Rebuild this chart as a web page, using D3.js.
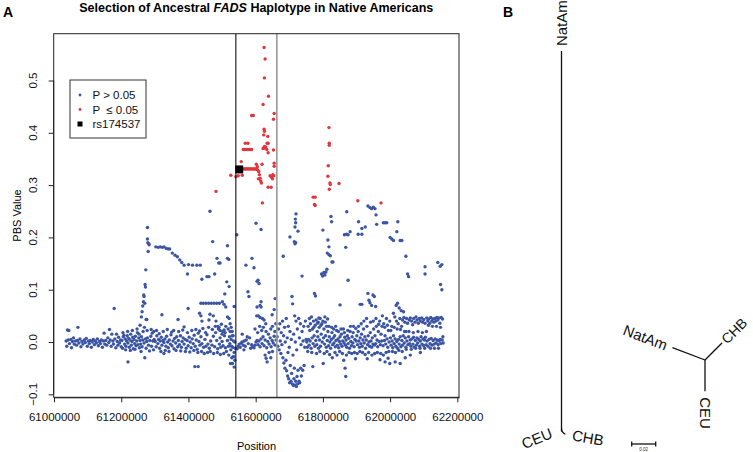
<!DOCTYPE html>
<html><head><meta charset="utf-8">
<script src="https://cdn.jsdelivr.net/npm/d3@7/dist/d3.min.js"></script>
<style>
html,body{margin:0;padding:0;background:#fff;}
svg{display:block;font-family:"Liberation Sans",Arial,Helvetica,sans-serif;}
text{white-space:pre;}
</style></head>
<body><svg id="c" width="753" height="452"></svg>
<script>
// ---------- DATA (positions in kb, PBS values) ----------
const xTicks = [61000000,61200000,61400000,61600000,61800000,62000000,62200000];
const yTicks = [-0.1,0.0,0.1,0.2,0.3,0.4,0.5];
const regionBounds = [61541, 61663]; // kb, black and grey lines

const blueLeftFlank = [
[61036,0.002],[61038,-0.008],[61040,0.023],[61044,0.022],[61042,0.004],[61046,-0.003],[61050,0.005],[61052,-0.011],[61055,0.001],[61058,0.008],[61060,-0.004],[61064,0.002],[61067,-0.006],[61071,0.028],[61070,0.003],[61074,-0.002],[61077,0.006],[61080,-0.009],[61083,0.001],[61086,-0.004],[61090,0.004],[61093,-0.001],[61096,0.007],[61099,-0.008],[61102,0.002],[61105,-0.003],[61108,0.003],[61111,-0.010],[61114,0.000],[61117,0.005],[61120,-0.005],[61123,0.002],[61126,-0.002],[61129,0.006],[61132,-0.007],[61135,0.001],[61138,-0.003],[61141,0.004],[61144,-0.010],[61147,0.002],[61149,0.017],[61151,-0.004],[61154,0.003],[61157,-0.006],[61160,0.008],[61163,-0.001],[61165,0.024],[61167,0.004],[61170,-0.008],[61172,0.015],[61175,0.002],[61177,-0.004],[61179,0.064],[61181,0.006],[61184,-0.011],[61186,0.015],[61188,0.001],[61190,-0.006],[61192,0.009],[61195,-0.002],[61198,0.004],[61200,-0.009],
[61202,0.003],[61204,-0.012],[61206,0.010],[61208,0.013],[61210,-0.004],[61212,0.006],[61214,-0.008],[61216,0.002],[61218,0.012],[61220,-0.038],[61220,-0.002],[61222,0.007],[61224,-0.010],[61226,0.004],[61228,0.015],[61230,-0.006],[61232,0.001],[61234,0.009],[61236,-0.013],[61238,0.005],[61240,-0.003],[61242,0.011],[61244,-0.007],[61246,0.002],[61248,0.018],[61250,-0.005],[61252,0.008],[61254,-0.011],[61256,0.032],[61256,0.003],[61258,-0.004],[61260,0.048],[61260,0.010],[61262,0.058],[61262,-0.009],[61264,0.069],[61264,0.004],[61266,0.077],[61267,0.090],[61268,0.087],[61268,-0.002],[61270,0.074],[61270,-0.030],[61271,0.110],[61272,0.105],[61272,0.006],[61274,0.043],[61274,-0.012],[61276,0.043],[61276,0.001],[61278,0.219],[61278,0.197],[61279,0.190],[61280,0.173],[61278,0.008],[61273,0.138],[61282,0.188],[61283,0.186],[61281,-0.006],[61285,0.003],[61288,0.011],[61290,-0.008],[61292,0.017],[61294,0.002],[61296,-0.015],[61298,0.005]
];

const blueMidFlank = [
[61303,0.182],[61310,0.181],[61316,0.182],[61322,0.181],[61327,0.182],[61334,0.179],[61340,0.178],[61344,0.178],[61352,0.170],[61360,0.166],[61367,0.163],[61374,0.157],[61380,0.152],[61387,0.147],[61400,0.148],[61412,0.147],[61425,0.147],[61435,0.147],[61397,0.130],
[61301,0.001],[61304,-0.009],[61306,0.012],[61309,-0.003],[61311,0.005],[61314,-0.012],[61316,0.002],[61319,0.009],[61321,-0.006],[61321,0.052],[61324,0.003],[61327,-0.022],[61327,-0.001],[61330,0.006],[61333,-0.008],[61335,0.011],[61338,0.000],[61340,-0.011],[61343,0.004],[61346,-0.004],[61348,0.014],[61351,-0.007],[61354,0.002],[61357,-0.013],[61359,0.007],[61362,-0.002],[61365,0.010],[61368,-0.009],[61369,0.043],[61370,0.003],[61373,-0.005],[61376,0.012],[61379,-0.010],[61381,0.001],[61384,0.008],[61387,0.029],[61387,-0.004],[61390,0.005],[61393,-0.012],[61396,0.003],[61399,0.064],[61399,-0.007],[61402,0.009],[61405,0.000],[61408,-0.011],[61411,0.006],[61414,-0.003],[61417,0.013],[61419,-0.047],[61420,-0.008],[61423,0.004],[61426,-0.014],[61429,0.017],[61429,-0.047],[61431,0.001],[61434,-0.006],[61437,0.010],[61440,-0.003],[61445,-0.010],[61449,0.005],[61452,-0.008],[61455,0.014],[61458,-0.004],[61462,-0.012],[61466,0.002],[61470,-0.006],[61474,0.011],[61478,-0.009],[61481,0.018],[61484,0.003],[61487,-0.013],[61489,0.025],[61492,-0.004],[61494,0.008],[61496,-0.010],[61498,0.034],[61500,0.001],[61503,-0.007],[61507,0.012],[61510,-0.011],[61516,0.003],[61519,-0.008],[61522,0.010],[61523,-0.003],[61525,-0.041],[61526,-0.015],[61527,0.005],[61529,-0.030],[61530,0.012],[61532,-0.010],[61534,0.002],[61536,-0.020],[61538,0.000],[61531,-0.041],[61533,-0.028],[61536,-0.048],[61538,-0.035],
[61440,0.120],[61455,0.125],[61461,0.125],[61478,0.130],[61514,0.115],[61521,0.106],[61508,0.092],[61501,0.077],[61506,0.072],[61511,0.067],[61516,0.048],[61521,0.045],[61536,0.068],[61433,0.055],[61437,0.050],[61440,0.040],[61464,0.053],[61474,0.050],[61461,0.042],
[61437,0.074],[61444,0.074],[61452,0.074],[61460,0.074],[61468,0.074],[61476,0.074],[61484,0.074],[61492,0.074],[61511,0.030],[61506,0.023],[61524,0.020],[61482,0.040],[61488,0.030],[61494,0.022],[61500,0.015],[61524,0.035],[61527,0.028],[61530,0.020],[61533,0.012],
[61464,0.250],[61472,0.192],[61485,0.160],[61490,0.151],[61494,0.151],[61516,0.184],[61516,0.160],[61520,0.158],[61544,0.205]
];

const blueCore = [
[61545,-0.013],[61548,-0.008],[61551,-0.004],[61554,-0.010],[61557,-0.002],[61560,0.000],[61563,-0.006],[61566,0.002],[61569,-0.008],[61572,0.004],[61578,-0.003],[61585,-0.012],[61591,-0.009],[61595,-0.011],[61598,-0.006],[61601,0.000],[61604,0.003],[61607,-0.005],[61610,0.002],[61613,-0.009],[61616,0.006],[61619,-0.003],[61622,0.010],[61625,-0.007],[61628,0.004],[61631,0.020],[61633,-0.011],[61636,0.001],[61640,-0.004],[61643,0.008],[61646,-0.009],[61649,0.003],[61652,-0.002],[61655,0.011],[61658,-0.006],[61661,0.004],
[61628,-0.025],[61631,-0.031],[61634,-0.038],
[61577,0.096],[61580,0.087],[61601,0.227],[61616,0.215],[61589,0.160],[61571,0.147],[61595,0.142],[61607,0.118],[61610,0.112],[61604,0.116],[61613,0.070],[61616,0.077],[61603,0.050],[61608,0.050],[61613,0.047],[61620,0.045],[61625,0.042],[61604,0.067],[61616,0.067],[61658,0.083],[61655,0.062],[61649,0.052],
[61598,0.025],[61606,0.018],[61612,0.030],[61618,0.022],[61623,0.028],[61630,0.035],[61638,0.015],[61645,0.025],[61650,0.030],[61657,0.020],[61660,0.035],[61560,0.015],[61565,-0.015],[61575,0.010],[61582,0.008],[61588,-0.005],[61640,-0.020],[61645,-0.030],[61650,-0.018]
];

const blueRightFlank = [
[61664,0.010],[61666,-0.008],[61668,0.025],[61670,-0.015],[61672,0.035],[61673,0.002],[61675,-0.022],[61676,0.018],[61678,-0.005],[61680,0.040],[61681,-0.030],[61683,0.012],[61684,-0.040],[61686,0.028],[61687,-0.050],[61688,0.000],[61690,-0.035],[61691,0.045],[61692,-0.055],[61694,0.008],[61695,-0.065],[61696,-0.020],[61697,0.030],[61698,-0.070],[61700,-0.010],[61701,-0.078],[61702,0.020],[61703,-0.045],[61705,-0.075],[61706,0.005],[61707,-0.060],[61708,0.087],[61709,-0.080],[61710,0.073],[61711,-0.025],[61712,-0.083],[61713,0.015],[61714,-0.070],[61715,-0.050],[61716,0.050],[61717,-0.082],[61718,0.000],[61719,-0.075],[61720,0.040],[61721,-0.085],[61722,-0.015],[61723,-0.066],[61724,0.025],[61725,-0.080],[61726,-0.054],[61728,0.045],[61729,-0.075],[61730,0.008],[61731,-0.078],[61733,0.035],[61734,-0.050],[61735,-0.005],[61736,-0.065],[61738,0.126],[61738,0.020],[61740,-0.054],[61741,0.002],[61743,0.030],[61744,-0.045],[61746,-0.010],[61748,0.040],[61750,0.005],
[61720,0.245],[61718,0.235],[61719,0.228],[61717,0.220],[61726,0.212],[61702,0.201],[61715,0.192],[61717,0.188],[61719,0.190],[61682,0.164],
[61752,0.000],[61754,-0.010],[61756,0.030],[61757,0.005],[61759,-0.006],[61760,0.045],[61762,0.002],[61763,0.035],[61765,-0.012],[61766,0.048],[61768,0.008],[61769,0.025],[61770,-0.047],[61771,-0.003],[61772,0.040],[61774,0.012],[61775,0.093],[61776,-0.008],[61777,0.032],[61778,0.088],[61779,0.003],[61780,0.042],[61782,-0.005],[61783,0.020],[61785,0.010],[61786,0.038],[61787,-0.012],[61789,0.028],[61790,0.004],[61792,0.045],[61793,-0.008],[61795,0.015],[61796,0.130],[61797,0.035],[61798,0.000],[61799,0.126],[61800,0.040],[61801,-0.041],[61802,0.008],[61803,0.133],[61803,0.025],[61805,-0.004],[61806,0.128],[61806,0.048],[61808,0.012],[61809,0.134],[61810,-0.010],[61811,0.030],[61813,0.003],[61815,0.020],[61817,-0.007],[61819,0.010],[61821,0.000],[61823,-0.012],[61825,0.005],[61827,0.018],[61829,-0.005],[61831,0.008],[61833,-0.002],[61835,0.012],[61837,-0.009],[61839,0.003],[61841,0.022],[61843,-0.006],[61845,0.006],[61847,-0.011],[61849,0.001],[61851,0.071],[61851,0.010],[61853,-0.004],[61855,0.015],[61857,-0.008],[61859,0.002],[61861,0.025],[61862,-0.035],[61863,-0.002],[61865,0.009],[61866,-0.050],[61867,-0.006],[61868,-0.066],[61869,0.004],[61871,-0.010],[61873,0.012],[61875,0.118],[61875,-0.003],[61877,0.007],[61879,-0.012],[61881,0.020],[61883,0.001],[61885,-0.007],[61887,0.010],[61889,-0.002],[61891,0.030],[61893,-0.009],[61895,0.005],[61897,-0.032],[61899,0.002],
[61824,0.240],[61826,0.230],[61800,0.214],[61815,0.195],[61818,0.182],[61813,0.170],[61818,0.167],[61822,0.165],[61827,0.153],[61830,0.153],[61812,0.139],[61871,0.249],[61881,0.211],[61875,0.205],[61870,0.206],[61864,0.205],[61868,0.181],[61906,0.230],[61916,0.217],[61926,0.220],[61905,0.206],[61916,0.206],[61934,0.260],[61940,0.257],[61945,0.255],[61950,0.258],[61955,0.255],[61958,0.243],[61960,0.225],[61980,0.228],[61985,0.228],[61990,0.228],
[61901,0.012],[61903,-0.005],[61905,0.020],[61907,0.002],[61909,-0.010],[61911,0.072],[61911,0.008],[61913,-0.003],[61915,0.015],[61916,0.072],[61917,-0.008],[61919,0.004],[61921,0.025],[61923,-0.002],[61925,0.010],[61927,-0.012],[61929,0.004],[61931,0.030],[61932,-0.032],[61933,-0.005],[61934,0.093],[61935,0.012],[61937,0.080],[61937,0.000],[61939,-0.008],[61940,0.075],[61941,0.018],[61943,0.002],[61945,0.070],[61945,-0.010],[61947,0.008],[61949,0.090],[61949,-0.004],[61951,0.025],[61953,0.087],[61953,-0.006],[61955,0.012],[61957,0.068],[61957,-0.003],[61959,0.030],[61961,0.004],[61963,-0.009],[61965,0.020],[61967,0.001],[61969,0.040],[61970,-0.034],[61971,-0.005],[61973,0.015],[61975,0.002],[61977,0.050],[61979,-0.007],[61981,0.035],[61983,0.003],[61985,-0.038],[61985,0.012],[61987,-0.004],[61989,0.045],[61991,0.006],[61993,-0.010],[61994,-0.031],[61995,0.022],[61997,0.000],[61999,-0.041],[61999,0.040]
];

const blueFarRight = [
[62000,0.200],[62005,0.197],[62010,0.194],[62030,0.194],[62035,0.194],[62023,0.230],[62020,0.211],[62047,0.164],[62104,0.144],[62142,0.152],[62149,0.145],[62154,0.148],
[62001,0.008],[62003,-0.006],[62005,0.030],[62006,0.002],[62008,-0.011],[62010,0.055],[62010,0.012],[62012,-0.003],[62014,0.048],[62015,0.006],[62017,-0.008],[62018,0.070],[62019,0.040],[62020,0.001],[62022,0.074],[62022,-0.012],[62024,0.035],[62025,0.005],[62027,0.065],[62027,-0.004],[62029,0.045],[62030,0.010],[62032,-0.009],[62033,0.060],[62034,0.030],[62035,0.003],[62037,0.042],[62037,-0.006],[62039,0.012],[62040,0.058],[62041,0.047],[62042,-0.002],[62044,0.038],[62045,0.008],[62047,0.020],[62047,-0.010],[62049,0.045],[62050,0.002],[62052,0.130],[62052,0.036],[62053,-0.005],[62055,0.125],[62055,0.010],[62057,0.042],[62058,-0.003],[62060,0.046],[62060,0.004],[62062,-0.008],[62064,0.040],[62065,0.006],[62067,0.033],[62068,-0.004],[62070,0.045],[62070,0.009],[62072,-0.010],[62074,0.038],[62075,0.003],[62077,0.048],[62078,-0.006],[62080,0.042],[62080,0.008],[62082,-0.002],[62084,0.036],[62085,0.005],[62087,0.045],[62088,-0.008],[62090,0.040],[62090,0.002],[62092,0.010],[62094,0.046],[62095,-0.004],[62097,0.038],[62098,0.006],[62100,0.043],[62100,-0.007],[62102,0.004],[62104,0.130],[62104,0.036],[62105,0.009],[62107,-0.005],[62109,0.046],[62110,0.002],[62112,0.040],[62113,-0.008],[62115,0.044],[62116,0.005],[62118,0.036],[62119,-0.003],[62121,0.047],[62122,0.007],[62124,0.040],[62125,-0.006],[62127,0.044],[62128,0.003],[62130,0.038],[62131,-0.004],[62133,0.045],[62134,0.006],[62136,0.040],[62137,-0.002],[62139,0.047],[62140,0.004],[62142,0.042],[62143,-0.005],[62145,0.046],[62146,0.002],[62148,0.036],[62149,0.005],[62150,0.110],[62151,-0.003],[62152,0.047],[62154,0.100],[62155,0.004],[62156,0.044],[62158,-0.002],
[62015,-0.038],[62030,-0.041],[62045,-0.030],[62060,-0.025],[62090,-0.020]
];

// extra points thickening the near-zero band
const blueBand = [
[61205,0.018],[61213,-0.015],[61219,0.020],[61227,-0.016],[61233,0.022],[61241,-0.014],[61247,0.025],[61253,0.015],[61259,-0.018],[61265,0.020],[61269,0.028],[61277,0.022],[61284,-0.017],[61289,0.024],[61297,0.020],[61305,0.022],[61313,0.016],[61318,-0.018],[61325,0.020],[61331,-0.016],[61337,0.024],[61342,-0.018],[61350,0.019],[61356,0.022],[61363,-0.016],[61371,0.020],[61377,-0.017],[61383,0.023],[61391,-0.018],[61397,0.018],[61404,-0.019],[61410,0.022],[61416,-0.016],[61422,0.024],[61428,-0.020],[61433,0.021],[61439,-0.018],[61443,0.026],[61447,-0.022],[61451,0.018],[61457,-0.020],[61460,0.028],[61465,-0.018],[61471,0.024],[61475,-0.022],[61480,0.030],[61486,-0.020],[61491,0.028],[61495,-0.024],[61502,0.020],[61505,-0.022],[61509,0.018],[61513,-0.018],[61518,0.025],[61520,-0.025],[61528,-0.008],[61535,-0.028],[61539,-0.012],
[61755,-0.018],[61761,0.022],[61767,-0.020],[61773,0.028],[61781,-0.022],[61784,0.036],[61788,0.046],[61791,-0.018],[61794,0.032],[61804,-0.022],[61807,0.038],[61812,-0.018],[61814,0.044],[61818,0.030],[61820,-0.024],[61826,0.028],[61828,-0.030],[61832,0.025],[61836,-0.020],[61838,0.030],[61842,-0.025],[61846,0.020],[61850,-0.018],[61854,0.025],[61858,-0.022],[61864,0.018],[61870,-0.025],[61874,0.022],[61878,-0.020],[61882,0.030],[61886,-0.022],[61890,0.018],[61894,-0.020],[61898,0.026],[61902,-0.022],[61906,0.030],[61910,-0.018],[61914,0.035],[61918,-0.020],[61922,0.040],[61926,-0.024],[61930,0.045],[61936,-0.020],[61942,0.038],[61946,-0.025],[61950,0.040],[61954,-0.022],[61958,0.045],[61962,-0.020],[61966,0.034],[61972,-0.022],[61976,0.030],[61980,-0.025],[61984,0.028],[61988,-0.020],[61992,0.032],[61996,-0.018],[62002,0.022],[62007,-0.018],[62012,0.028],[62016,-0.020],[62021,0.025],[62026,-0.016],[62031,0.024],[62036,-0.018],[62043,0.020],[62048,-0.014],[62056,0.020],[62063,-0.014],[62069,0.018],[62076,-0.012],[62083,0.020],[62089,-0.012],[62096,0.018],[62103,-0.012],[62108,0.020],[62114,0.032],[62120,-0.012],[62126,0.030],[62132,-0.012],[62138,0.030],[62144,-0.012],[62150,0.028],[62157,0.010]
];

const redSNPs = [
[61482,0.288],[61526,0.319],[61541,0.316],[61548,0.318],[61557,0.345],[61560,0.319],[61563,0.368],[61567,0.368],[61571,0.368],[61576,0.368],[61580,0.368],[61584,0.368],[61588,0.368],[61577,0.380],[61569,0.380],
[61558,0.331],[61561,0.331],[61564,0.331],[61567,0.331],[61570,0.331],[61573,0.331],[61576,0.331],[61579,0.331],[61582,0.331],[61585,0.331],[61588,0.331],[61591,0.331],[61594,0.331],[61597,0.331],[61600,0.331],[61603,0.330],[61606,0.329],[61609,0.326],[61611,0.320],[61613,0.313],[61615,0.308],[61617,0.304],
[61602,0.340],[61605,0.335],[61608,0.312],[61619,0.340],[61588,0.433],[61593,0.433],
[61625,0.563],[61628,0.541],[61626,0.505],[61638,0.470],[61622,0.454],[61655,0.437],[61653,0.426],[61625,0.407],[61626,0.403],[61624,0.396],[61636,0.393],[61626,0.374],[61627,0.371],[61634,0.380],[61637,0.380],[61630,0.373],[61633,0.368],[61637,0.362],[61653,0.367],[61622,0.370],[61655,0.342],[61655,0.336],
[61643,0.318],[61647,0.315],[61650,0.312],[61651,0.320],[61654,0.318],[61637,0.296],[61646,0.296],[61620,0.266],
[61818,0.410],[61819,0.380],[61819,0.376],[61816,0.337],[61815,0.317],[61821,0.304],[61822,0.301],[61848,0.303],[61819,0.292],[61771,0.277],[61777,0.277],[61775,0.263],[61777,0.261],[61904,0.270],[61973,0.266]
];

const leadSNP = {name:"rs174537", pos:61551, pbs:0.330};

const legendItems = [
  {label:"P > 0.05", type:"blue"},
  {label:"P  \u2264 0.05", type:"red"},
  {label:"rs174537", type:"lead"}
];

// Trees (branch lengths, PBS units)
const treeFADS   = [{name:"NatAm", len:0.317},{name:"CHB", len:0.004},{name:"CEU", len:0.000}];
const treeGenome = [{name:"NatAm", len:0.029},{name:"CHB", len:0.020},{name:"CEU", len:0.026}];
const scaleBarLen = 0.02;

// ---------- DRAW ----------
const BLUE = "#3b55a3", RED = "#e2353d";
const svg = d3.select("#c");
const FONT = '"Liberation Sans",Arial,Helvetica,sans-serif';

const x = d3.scaleLinear().domain([60999000, 62205000]).range([53.7, 459]);
const y = d3.scaleLinear().domain([-0.1057, 0.5895]).range([397.3, 33.7]);

// title
const title = svg.append("text").attr("x", 256.3).attr("y", 12).attr("text-anchor","middle")
  .attr("font-weight","bold").attr("font-size","12.5px");
title.append("tspan").text("Selection of Ancestral ");
title.append("tspan").attr("font-style","italic").text("FADS");
title.append("tspan").text(" Haplotype in Native Americans");

svg.append("text").attr("x",3).attr("y",17).attr("font-weight","bold").attr("font-size","14px").text("A");
svg.append("text").attr("x",503).attr("y",17).attr("font-weight","bold").attr("font-size","14px").text("B");

// points
const all = blueLeftFlank.concat(blueMidFlank, blueCore, blueRightFlank, blueFarRight, blueBand);
const plot = svg.append("g");
plot.selectAll("circle.b").data(all).join("circle").attr("class","b")
  .attr("cx", d => x(d[0]*1000)).attr("cy", d => y(d[1])).attr("r",1.7).attr("fill",BLUE);
plot.selectAll("circle.r").data(redSNPs).join("circle").attr("class","r")
  .attr("cx", d => x(d[0]*1000)).attr("cy", d => y(d[1])).attr("r",1.7).attr("fill",RED);
plot.append("rect").attr("x", x(leadSNP.pos*1000)-4).attr("y", y(leadSNP.pbs)-4)
  .attr("width",8).attr("height",8).attr("fill","#000");

// region lines
svg.append("line").attr("x1",x(regionBounds[0]*1000)).attr("x2",x(regionBounds[0]*1000))
  .attr("y1",y.range()[1]).attr("y2",y.range()[0]).attr("stroke","#111").attr("stroke-width",1.1);
svg.append("line").attr("x1",x(regionBounds[1]*1000)).attr("x2",x(regionBounds[1]*1000))
  .attr("y1",y.range()[1]).attr("y2",y.range()[0]).attr("stroke","#999").attr("stroke-width",1.6);

// box
svg.append("rect").attr("x",53.7).attr("y",33.7).attr("width",459-53.7).attr("height",397.3-33.7)
  .attr("fill","none").attr("stroke","#222").attr("stroke-width",1);

// x axis
const xa = svg.append("g").attr("transform","translate(0,397.3)")
  .call(d3.axisBottom(x).tickValues(xTicks).tickSize(5).tickSizeOuter(0).tickPadding(10.5).tickFormat(d3.format("d")));
xa.select(".domain").attr("stroke","#222");
xa.selectAll(".tick line").attr("stroke","#222");
xa.selectAll("text").attr("font-family",FONT).attr("font-size","11.5px").attr("fill","#111");

// y axis
const ya = svg.append("g").attr("transform","translate(53.7,0)")
  .call(d3.axisLeft(y).tickValues(yTicks).tickSize(5).tickSizeOuter(0).tickFormat(""));
ya.select(".domain").remove();
ya.selectAll(".tick line").attr("stroke","#222");
svg.append("line").attr("x1",53.7).attr("x2",53.7).attr("y1",y(yTicks[0])).attr("y2",y(yTicks[yTicks.length-1])).attr("stroke","#222");
svg.append("g").selectAll("text").data(yTicks).join("text")
  .attr("transform", d => `translate(37,${y(d)}) rotate(-90)`)
  .attr("text-anchor","middle").attr("font-size","11.5px").attr("fill","#111")
  .text(d => d3.format(".1f")(d).replace("-","\u2212"));

// axis titles
svg.append("text").attr("transform","translate(21,215.5) rotate(-90)").attr("text-anchor","middle")
  .attr("font-size","11px").text("PBS Value");
svg.append("text").attr("x",256.5).attr("y",450).attr("text-anchor","middle")
  .attr("font-size","11px").text("Position");

// legend
const lg = svg.append("g");
lg.append("rect").attr("x",70).attr("y",80).attr("width",76).attr("height",58)
  .attr("fill","#fff").attr("stroke","#333").attr("stroke-width",1);
legendItems.forEach((it,i) => {
  const cy = 95 + i*14.5;
  if (it.type==="blue") lg.append("circle").attr("cx",80).attr("cy",cy).attr("r",1.4).attr("fill",BLUE);
  if (it.type==="red") lg.append("circle").attr("cx",80).attr("cy",cy).attr("r",1.4).attr("fill",RED);
  if (it.type==="lead") lg.append("rect").attr("x",77.5).attr("y",cy-2.5).attr("width",5).attr("height",5).attr("fill","#000");
  lg.append("text").attr("x",92.5).attr("y",cy+4).attr("font-size","11.5px").attr("fill","#111")
    .attr("xml:space","preserve").text(it.label);
});

// ---------- Panel B: trees ----------
const bl = d3.scaleLinear().domain([0, scaleBarLen]).range([0, 24]);
const tg = svg.append("g").attr("stroke","#111").attr("stroke-width",1.3).attr("fill","none");
const deg = Math.PI/180;

// FADS tree (long NatAm branch)
const n1 = [561.5, 431.5];
const natTip1 = [n1[0], n1[1] - bl(treeFADS[0].len)];
tg.append("line").attr("x1",n1[0]).attr("y1",n1[1]).attr("x2",natTip1[0]).attr("y2",natTip1[1]);
const chbTip1 = [n1[0] + Math.cos(35*deg)*bl(treeFADS[1].len), n1[1] + Math.sin(35*deg)*bl(treeFADS[1].len)];
tg.append("path").attr("d", `M${n1[0]},${n1[1]-3} Q${n1[0]},${n1[1]+1} ${chbTip1[0]},${chbTip1[1]}`);

const lab = svg.append("g").attr("font-size","15px").attr("fill","#111");
lab.append("text").attr("transform",`translate(${natTip1[0]},${natTip1[1]-5}) rotate(-90)`)
  .attr("dominant-baseline","central").text(treeFADS[0].name);
lab.append("text").attr("transform",`translate(${chbTip1[0]+6},${chbTip1[1]+6}) rotate(10)`)
  .text(treeFADS[1].name);
lab.append("text").attr("transform",`translate(${n1[0]-8},${n1[1]+6}) rotate(-22)`)
  .attr("text-anchor","end").text(treeFADS[2].name);

// genome-wide tree (unrooted)
const n2 = [705, 360];
const angs = [200.8, -45, 90];
treeGenome.forEach((b,i) => {
  const a = angs[i]*deg, L = bl(b.len);
  const tip = [n2[0] + Math.cos(a)*L, n2[1] + Math.sin(a)*L];
  tg.append("line").attr("x1",n2[0]).attr("y1",n2[1]).attr("x2",tip[0]).attr("y2",tip[1]);
  const off = i===1 ? 2.5 : 6;
  const lp = [tip[0] + Math.cos(a)*off, tip[1] + Math.sin(a)*off];
  let rot = angs[i], anchor = "start";
  if (angs[i] > 90 && angs[i] < 270) { rot = angs[i]-180; anchor = "end"; }
  lab.append("text").attr("transform",`translate(${lp[0]},${lp[1]}) rotate(${rot})`)
    .attr("text-anchor",anchor).attr("dominant-baseline","central")
    .attr("font-size", i===1 ? "14px" : "15px").text(b.name);
});

// scale bar
const sb0 = 631.7, sbY = 444;
const sg = svg.append("g").attr("stroke","#111").attr("stroke-width",1.3);
sg.append("line").attr("x1",sb0).attr("x2",sb0+bl(scaleBarLen)).attr("y1",sbY).attr("y2",sbY);
sg.append("line").attr("x1",sb0).attr("x2",sb0).attr("y1",sbY-2.5).attr("y2",sbY+2.5);
sg.append("line").attr("x1",sb0+bl(scaleBarLen)).attr("x2",sb0+bl(scaleBarLen)).attr("y1",sbY-2.5).attr("y2",sbY+2.5);
svg.append("text").attr("x",sb0+bl(scaleBarLen)/2).attr("y",451).attr("text-anchor","middle")
  .attr("font-size","4.5px").attr("fill","#333").text(scaleBarLen.toFixed(2));
</script></body></html>
